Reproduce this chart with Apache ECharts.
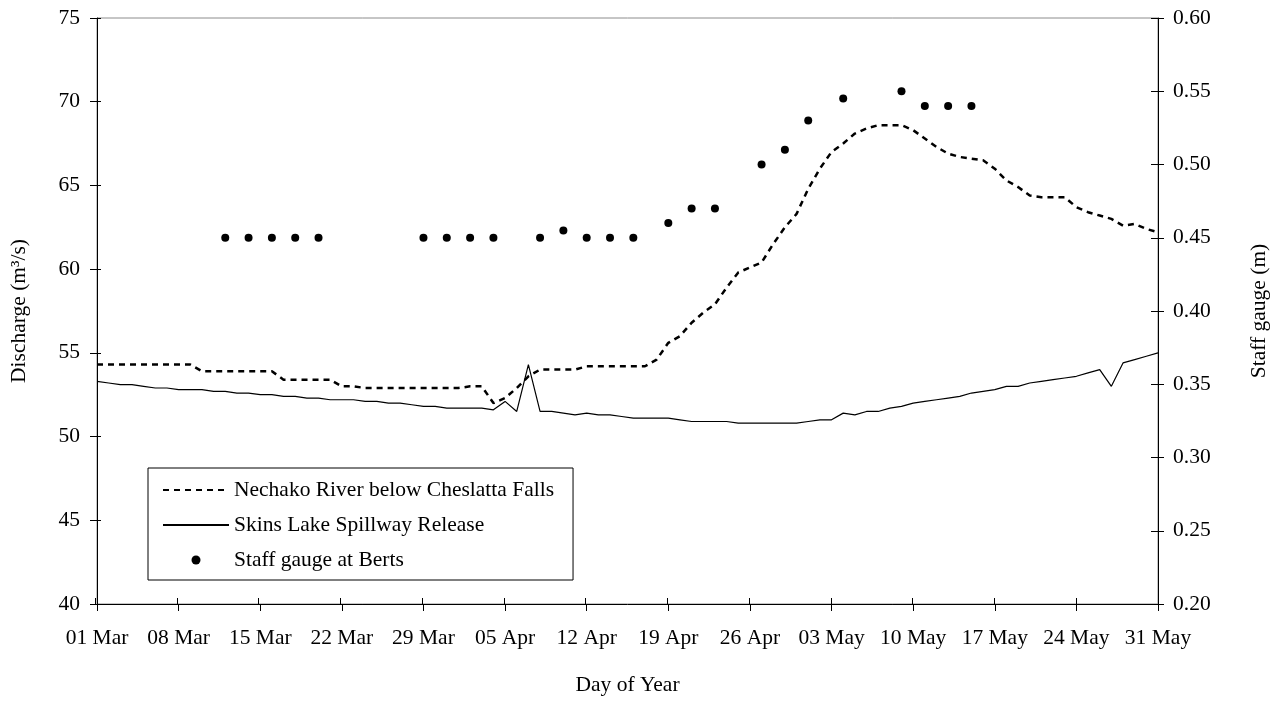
<!DOCTYPE html>
<html>
<head>
<meta charset="utf-8">
<script src="https://cdn.jsdelivr.net/npm/echarts@6/dist/echarts.min.js"></script>
<style>
html,body{margin:0;padding:0;background:#fff;}
#chart{width:1282px;height:706px;}
</style>
</head>
<body>
<div id="chart"></div>
<script>
// X tick labels (every 7 days from 01 Mar, day index 0..91)
const xTickLabels = ['01 Mar','08 Mar','15 Mar','22 Mar','29 Mar','05 Apr','12 Apr','19 Apr','26 Apr','03 May','10 May','17 May','24 May','31 May'];
const leftTickLabels = ['40','45','50','55','60','65','70','75'];
const rightTickLabels = ['0.20','0.25','0.30','0.35','0.40','0.45','0.50','0.55','0.60'];

// Daily discharge, day 0 = 01 Mar ... day 91 = 31 May
const nechako = [
  54.3,54.3,54.3,54.3,54.3,54.3,54.3,54.3,54.3,
  53.9,53.9,53.9,53.9,53.9,53.9,53.9,
  53.4,53.4,53.4,53.4,53.4,
  53.0,53.0,
  52.9,52.9,52.9,52.9,52.9,52.9,52.9,52.9,52.9,
  53.0,53.0,
  52.0,52.3,52.9,53.6,54.0,
  54.0,54.0,54.0,
  54.2,54.2,54.2,54.2,54.2,54.2,
  54.6,55.6,56.0,56.8,57.4,57.9,58.9,59.8,60.1,60.4,
  61.5,62.5,63.3,64.8,66.0,67.0,67.5,68.1,68.4,68.6,
  68.6,68.6,68.3,67.8,67.3,66.9,66.7,66.6,66.5,66.0,
  65.3,64.9,64.4,64.3,64.3,64.3,63.7,63.4,63.2,63.0,
  62.6,62.7,62.4,62.2
];
const skins = [
  53.3,53.2,53.1,53.1,53.0,52.9,52.9,52.8,52.8,52.8,
  52.7,52.7,52.6,52.6,52.5,52.5,52.4,52.4,52.3,52.3,
  52.2,52.2,52.2,52.1,52.1,52.0,52.0,51.9,51.8,51.8,
  51.7,51.7,51.7,51.7,51.6,52.1,51.5,54.3,51.5,51.5,
  51.4,51.3,51.4,51.3,51.3,51.2,51.1,51.1,51.1,51.1,
  51.0,50.9,50.9,50.9,50.9,50.8,50.8,50.8,50.8,50.8,
  50.8,50.9,51.0,51.0,51.4,51.3,51.5,51.5,51.7,51.8,
  52.0,52.1,52.2,52.3,52.4,52.6,52.7,52.8,53.0,53.0,
  53.2,53.3,53.4,53.5,53.6,53.8,54.0,53.0,54.4,54.6,
  54.8,55.0
];
// Staff gauge readings (day index, metres)
const gaugeDays = [11,13,15,17,19,28,30,32,34,38,40,42,44,46,49,51,53,57,59,61,64,69,71,73,75];
const gaugeVals = [0.45,0.45,0.45,0.45,0.45,0.45,0.45,0.45,0.45,0.45,0.455,0.45,0.45,0.45,0.46,0.47,0.47,0.50,0.51,0.53,0.545,0.55,0.54,0.54,0.54];

const FONT = 'Liberation Serif';
const FS = 21.5;
const txt = {color:'#000', fontFamily:FONT, fontSize:FS};

const chart = echarts.init(document.getElementById('chart'), null, {renderer:'canvas'});

const xBase = {type:'value', min:0, max:91, interval:7, splitLine:{show:false}};
const yLBase = {type:'value', min:40, max:75, interval:5, splitLine:{show:false}};
const yRBase = {type:'value', min:0.2, max:0.6, interval:0.05, splitLine:{show:false}};
const gridBox = {left:95, right:124, top:18, bottom:102};

const option = {
  animation:false,
  backgroundColor:'#fff',
  grid:[
    Object.assign({show:true, borderColor:'#8c8c8c', borderWidth:1, backgroundColor:'transparent'}, gridBox),
    Object.assign({show:false}, gridBox)
  ],
  legend:{
    orient:'vertical', left:148, top:468,
    borderColor:'#000', borderWidth:1, backgroundColor:'#fff',
    padding:[11,19,9,14], itemWidth:66, itemHeight:9, itemGap:13,
    selectedMode:false, textStyle:txt,
    data:[
      {name:'Nechako River below Cheslatta Falls', itemStyle:{opacity:0}},
      {name:'Skins Lake Spillway Release', itemStyle:{opacity:0}},
      {name:'Staff gauge at Berts', itemStyle:{opacity:1}}
    ]
  },
  xAxis:[
    Object.assign({}, xBase, {
      gridIndex:0, position:'bottom',
      name:'Day of Year', nameLocation:'middle', nameGap:70, nameTextStyle:txt,
      axisLine:{show:true, lineStyle:{color:'#000', width:1}},
      axisTick:{show:true, length:7, lineStyle:{color:'#000'}},
      axisLabel:Object.assign({margin:23, showMinLabel:true, showMaxLabel:true, formatter:v=>xTickLabels[Math.round(v/7)]}, txt)
    }),
    Object.assign({}, xBase, {
      gridIndex:1, position:'bottom',
      axisLine:{show:false}, axisLabel:{show:false},
      axisTick:{show:true, inside:true, length:6, lineStyle:{color:'#000'}}
    })
  ],
  yAxis:[
    Object.assign({}, yLBase, {
      gridIndex:0, position:'left',
      name:'Discharge (m³/s)', nameLocation:'middle', nameRotate:90, nameGap:67, nameTextStyle:txt,
      axisLine:{show:true, lineStyle:{color:'#000', width:1}},
      axisTick:{show:true, length:7, lineStyle:{color:'#000'}},
      axisLabel:Object.assign({margin:17, formatter:v=>leftTickLabels[Math.round((v-40)/5)]}, txt)
    }),
    Object.assign({}, yRBase, {
      gridIndex:0, position:'right',
      name:'Staff gauge (m)', nameLocation:'middle', nameRotate:90, nameGap:90, nameTextStyle:txt,
      axisLine:{show:true, lineStyle:{color:'#000', width:1}},
      axisTick:{show:true, length:6, lineStyle:{color:'#000'}},
      axisLabel:Object.assign({margin:15, formatter:v=>rightTickLabels[Math.round((v-0.2)/0.05)]}, txt)
    }),
    Object.assign({}, yLBase, {
      gridIndex:1, position:'left',
      axisLine:{show:false}, axisLabel:{show:false},
      axisTick:{show:true, inside:true, length:6, lineStyle:{color:'#000'}}
    }),
    Object.assign({}, yRBase, {
      gridIndex:1, position:'right',
      axisLine:{show:false}, axisLabel:{show:false},
      axisTick:{show:true, inside:true, length:7, lineStyle:{color:'#000'}}
    })
  ],
  series:[
    {
      name:'Nechako River below Cheslatta Falls', type:'line', xAxisIndex:0, yAxisIndex:0,
      data:nechako.map((v,i)=>[i,v]), symbol:'none', silent:true,
      lineStyle:{color:'#000', width:2.5, type:[6,5]}, itemStyle:{color:'#000'}
    },
    {
      name:'Skins Lake Spillway Release', type:'line', xAxisIndex:0, yAxisIndex:0,
      data:skins.map((v,i)=>[i,v]), symbol:'none', silent:true,
      lineStyle:{color:'#000', width:1.2}, itemStyle:{color:'#000'}
    },
    {
      name:'Staff gauge at Berts', type:'scatter', xAxisIndex:0, yAxisIndex:1,
      data:gaugeDays.map((d,i)=>[d, gaugeVals[i]]), symbol:'circle', symbolSize:8, silent:true,
      itemStyle:{color:'#000', opacity:1}
    }
  ]
};
chart.setOption(option);
</script>
</body>
</html>
